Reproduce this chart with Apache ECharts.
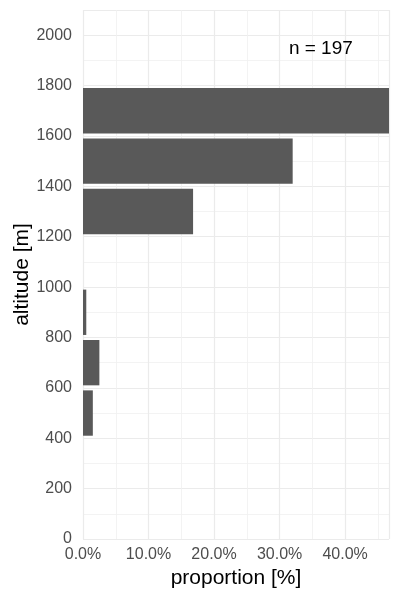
<!DOCTYPE html>
<html>
<head>
<meta charset="utf-8">
<script src="https://cdn.jsdelivr.net/npm/echarts@6/dist/echarts.min.js"></script>
<style>
  html, body { margin: 0; padding: 0; background: #fff; }
  #chart { width: 400px; height: 600px; }
</style>
</head>
<body>
<div id="chart"></div>
<script>
// altitude bins (m) and proportion of observations (%)
var binStart = [400, 600, 800, 1200, 1400, 1600];
var binEnd = [600, 800, 1000, 1400, 1600, 1800];
var proportion = [1.5, 2.5, 0.5, 16.8, 32.0, 46.7];
var nLabel = 'n = 197';

var barData = binStart.map(function (s, i) {
  return [proportion[i], s, binEnd[i]];
});

var myChart = echarts.init(document.getElementById('chart'));

var option = {
  backgroundColor: '#fff',
  animation: false,
  textStyle: { fontFamily: 'Liberation Sans, Arial, sans-serif' },
  grid: { left: 83, right: 11, top: 10, bottom: 61, containLabel: false, outerBoundsMode: 'none' },
  xAxis: {
    type: 'value',
    min: 0,
    max: 46.7,
    interval: 10,
    name: 'proportion [%]',
    nameLocation: 'middle',
    nameGap: 28,
    nameTextStyle: { color: '#000', fontSize: 21 },
    axisLine: { show: false },
    axisTick: { show: false },
    axisLabel: {
      color: '#4d4d4d',
      fontSize: 16,
      margin: 8,
      showMaxLabel: false,
      formatter: function (v) { return v.toFixed(1) + '%'; }
    },
    splitLine: { lineStyle: { color: '#ebebeb', width: 1.2 } },
    minorTick: { show: false, splitNumber: 2 },
    minorSplitLine: { show: true, lineStyle: { color: '#f0f0f0', width: 0.8 } }
  },
  yAxis: {
    type: 'value',
    min: 0,
    max: 2100,
    interval: 200,
    name: 'altitude [m]',
    nameLocation: 'middle',
    nameGap: 50,
    nameMoveOverlap: false,
    nameTextStyle: { color: '#000', fontSize: 21 },
    axisLine: { show: false },
    axisTick: { show: false },
    axisLabel: {
      color: '#4d4d4d',
      fontSize: 16,
      margin: 11,
      showMaxLabel: false,
      formatter: function (v) { return String(v); }
    },
    splitLine: { lineStyle: { color: '#ebebeb', width: 1.2 } },
    minorTick: { show: false, splitNumber: 2 },
    minorSplitLine: { show: true, lineStyle: { color: '#f0f0f0', width: 0.8 } }
  },
  series: [
    {
      type: 'custom',
      data: barData,
      encode: { x: 0, y: [1, 2] },
      renderItem: function (params, api) {
        var v = api.value(0);
        var lo = api.value(1);
        var hi = api.value(2);
        var pad = (hi - lo) * 0.05;
        var p1 = api.coord([0, hi - pad]);
        var p2 = api.coord([v, lo + pad]);
        return {
          type: 'rect',
          shape: { x: p1[0], y: p1[1], width: p2[0] - p1[0], height: p2[1] - p1[1] },
          style: { fill: '#595959' }
        };
      }
    },
    {
      type: 'custom',
      data: [[36.3, 1947]],
      renderItem: function (params, api) {
        var p = api.coord([api.value(0), api.value(1)]);
        return {
          type: 'text',
          x: p[0],
          y: p[1],
          style: {
            text: nLabel,
            fill: '#000',
            fontSize: 19,
            fontFamily: 'Liberation Sans, Arial, sans-serif',
            align: 'center',
            verticalAlign: 'middle'
          }
        };
      }
    }
  ]
};

myChart.setOption(option);
</script>
</body>
</html>
